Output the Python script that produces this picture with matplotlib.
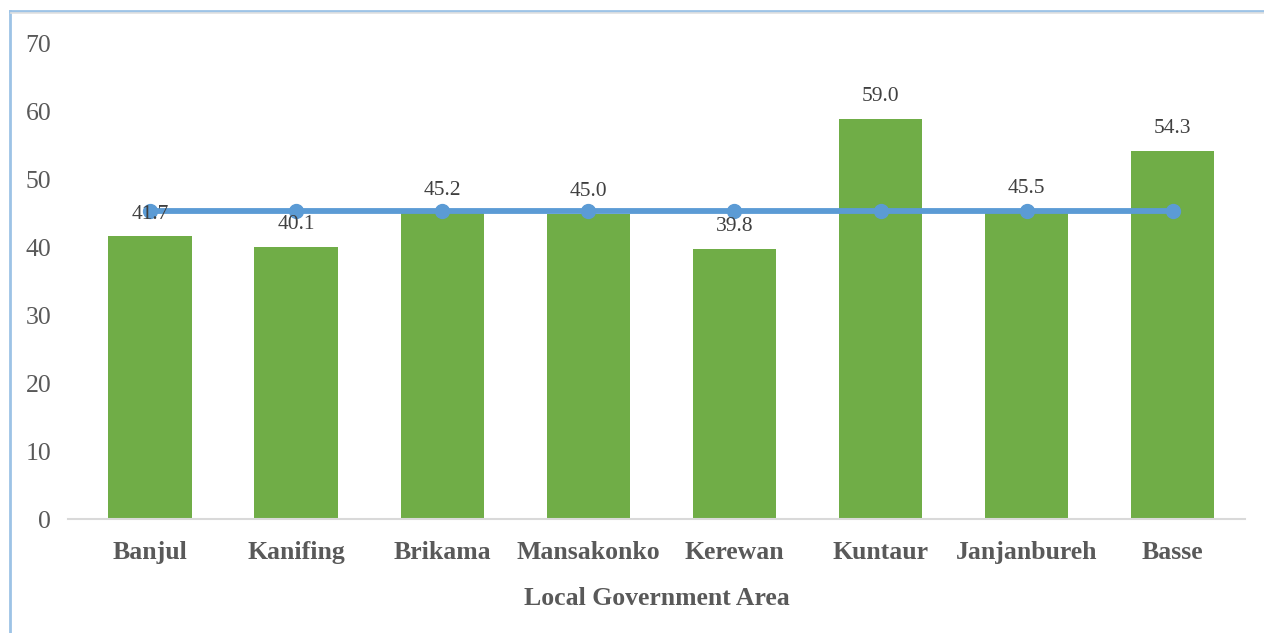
import matplotlib.pyplot as plt
from matplotlib.lines import Line2D

areas = ['Banjul', 'Kanifing', 'Brikama', 'Mansakonko', 'Kerewan',
         'Kuntaur', 'Janjanbureh', 'Basse']
values = [41.7, 40.1, 45.2, 45.0, 39.8, 59.0, 45.5, 54.3]
national = [45.4] * len(areas)
yticks = [0, 10, 20, 30, 40, 50, 60, 70]

plt.rcParams['font.family'] = ['Liberation Serif', 'DejaVu Serif']

fig = plt.figure(figsize=(12.64, 6.33), dpi=100)
ax = fig.add_axes([0.0538, 0.180, 0.9312, 0.7505])

x = range(len(areas))
ax.bar(x, values, width=0.57, color='#70AD47', zorder=2)
ax.plot(x, national, color='#5B9BD5', lw=4.2, marker='o', ms=10, zorder=3)

for xi, v in zip(x, values):
    ax.annotate(f'{v:.1f}', (xi, v), xytext=(0, 9), textcoords='offset points',
                ha='center', va='bottom', fontsize=15.5, color='#404040', zorder=4)

ax.set_xlim(-0.561, 7.495)
ax.set_ylim(0, 70)
ax.set_yticks(yticks)
ax.set_xticks(list(x))
ax.set_xticklabels(areas, fontsize=18.5, fontweight='bold', color='#595959')
ax.tick_params(axis='y', labelsize=18.5, labelcolor='#595959', length=0, pad=12)
ax.tick_params(axis='x', length=0, pad=16)
ax.set_xlabel('Local Government Area', fontsize=18.5, fontweight='bold',
              color='#595959', labelpad=16)

for s in ['top', 'right', 'left']:
    ax.spines[s].set_visible(False)
ax.spines['bottom'].set_color('#D9D9D9')
ax.spines['bottom'].set_linewidth(1.5)

# outer frame (left and top edges only visible)
fig.add_artist(Line2D([10 / 1264, 10 / 1264], [0, 1 - 11 / 633],
                      transform=fig.transFigure, color='#9DC3E6', lw=2))
fig.add_artist(Line2D([10 / 1264, 1], [1 - 11 / 633, 1 - 11 / 633],
                      transform=fig.transFigure, color='#9DC3E6', lw=2))
fig.add_artist(Line2D([11 / 1264, 1], [1 - 13 / 633, 1 - 13 / 633],
                      transform=fig.transFigure, color='#E0E0E0', lw=1.2))

fig.savefig('out.png', dpi=100)
